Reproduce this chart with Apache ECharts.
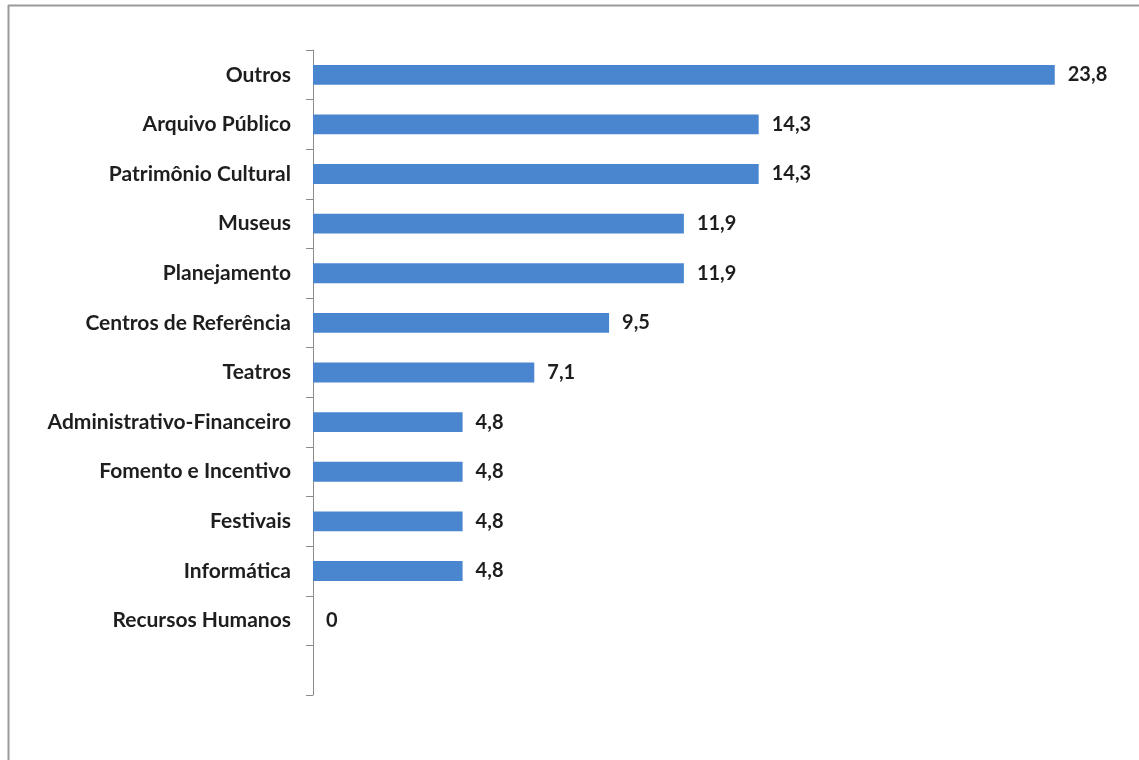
<!DOCTYPE html>
<html>
<head>
<meta charset="utf-8">
<script src="https://cdn.jsdelivr.net/npm/echarts@6/dist/echarts.min.js"></script>
<style>
    html, body { margin: 0; padding: 0; background: #fff; }
    #chart { width: 1139px; height: 760px; }
</style>
</head>
<body>
<div id="chart"></div>
<script>
// categorias (de cima para baixo), a última é o espaço vazio no fim do eixo
var categorias = [
    'Outros', 'Arquivo Público', 'Patrimônio Cultural', 'Museus', 'Planejamento',
    'Centros de Referência', 'Teatros', 'Administrativo-Financeiro',
    'Fomento e Incentivo', 'Festivais', 'Informática', 'Recursos Humanos', ''
];
var valores = [23.8, 14.3, 14.3, 11.9, 11.9, 9.5, 7.1, 4.8, 4.8, 4.8, 4.8, 0, null];

var chart = echarts.init(document.getElementById('chart'));

chart.setOption({
    animation: false,
    textStyle: { fontFamily: 'Lato, "Open Sans", sans-serif' },
    grid: { left: 313, right: 78, top: 50, bottom: 65, containLabel: false },
    // moldura cinza da planilha
    graphic: [{
        type: 'line',
        shape: { x1: 8, y1: 5.5, x2: 1139, y2: 5.5 },
        style: { stroke: '#9a9a9a', lineWidth: 2 }
    }, {
        type: 'line',
        shape: { x1: 8.5, y1: 5, x2: 8.5, y2: 760 },
        style: { stroke: '#9a9a9a', lineWidth: 2 }
    }],
    xAxis: {
        type: 'value',
        min: 0,
        max: 24,
        show: false
    },
    yAxis: {
        type: 'category',
        inverse: true,
        data: categorias,
        axisLine: { lineStyle: { color: '#8c8c8c', width: 1 } },
        axisTick: { show: true, length: 7, lineStyle: { color: '#8c8c8c' } },
        axisLabel: {
            margin: 22,
            color: '#1e1e1e',
            fontSize: 21,
            fontWeight: 'bold'
        }
    },
    series: [{
        type: 'bar',
        data: valores,
        barWidth: '40%',
        itemStyle: { color: '#4a86d0' },
        label: {
            show: true,
            position: 'right',
            distance: 13,
            color: '#1e1e1e',
            fontSize: 20,
            fontWeight: 'bold',
            formatter: function (p) {
                return p.value == null ? '' : String(p.value).replace('.', ',');
            }
        }
    }]
});
</script>
</body>
</html>
